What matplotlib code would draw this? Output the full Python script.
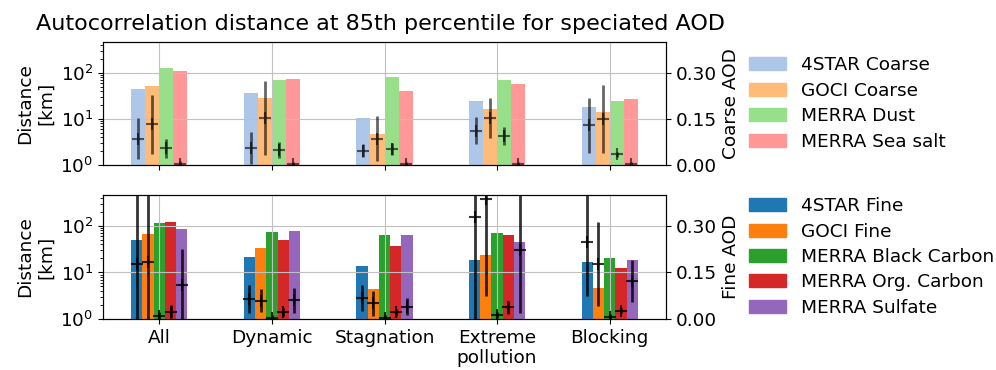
import numpy as np
from matplotlib import pyplot as plt
from matplotlib.patches import Patch

# categories of the meteorological regimes
categories = ['All', 'Dynamic', 'Stagnation', 'Extreme\npollution', 'Blocking']

# coarse mode: autocorrelation distance [km] (bars)
star_coarse_dist = [44, 36.5, 10.5, 24, 18.4]
goci_coarse_dist = [51, 28.4, 4.6, 16.3, 13.8]
merra_dust_dist = [129, 70, 82, 70, 25]
merra_seasalt_dist = [111, 75, 40, 57, 26.5]

# coarse mode: mean AOD and std (error bars)
star_coarse_aod = [0.085, 0.055, 0.047, 0.112, 0.129]
star_coarse_std = [0.067, 0.053, 0.021, 0.044, 0.089]
goci_coarse_aod = [0.132, 0.152, 0.086, 0.154, 0.150]
goci_coarse_std = [0.097, 0.120, 0.073, 0.065, 0.110]
merra_dust_aod = [0.054, 0.049, 0.053, 0.093, 0.035]
merra_dust_std = [0.030, 0.027, 0.019, 0.029, 0.008]
merra_seasalt_aod = [0.003, 0.002, 0.002, 0.002, 0.002]
merra_seasalt_std = [0.010, 0.008, 0.008, 0.008, 0.008]

# fine mode: autocorrelation distance [km]
star_fine_dist = [49.6, 21, 13.7, 18.2, 16.5]
goci_fine_dist = [67, 33.8, 4.4, 23.4, 4.6]
merra_bc_dist = [118, 73, 62.7, 69, 20]
merra_oc_dist = [120, 49.6, 38, 64.7, 12.4]
merra_su_dist = [86, 77, 64.7, 46, 18.5]

# fine mode: mean AOD and std
star_fine_aod = [0.178, 0.065, 0.067, 0.328, 0.247]
star_fine_std = [0.26, 0.046, 0.041, 0.35, 0.174]
goci_fine_aod = [0.183, 0.059, 0.051, 0.388, 0.178]
goci_fine_std = [0.26, 0.037, 0.040, 0.315, 0.136]
merra_bc_aod = [0.008, 0.003, 0.004, 0.013, 0.006]
merra_bc_std = [0.016, 0.010, 0.010, 0.011, 0.010]
merra_oc_aod = [0.024, 0.022, 0.021, 0.037, 0.026]
merra_oc_std = [0.022, 0.012, 0.010, 0.022, 0.008]
merra_su_aod = [0.111, 0.060, 0.040, 0.222, 0.122]
merra_su_std = [0.115, 0.040, 0.028, 0.203, 0.067]

coarse_labels = ['4STAR Coarse', 'GOCI Coarse', 'MERRA Dust', 'MERRA Sea salt']
fine_labels = ['4STAR Fine', 'GOCI Fine', 'MERRA Black Carbon', 'MERRA Org. Carbon', 'MERRA Sulfate']

plt.rcParams['font.size'] = 13.3

fig = plt.figure(figsize=(9.96, 3.7), dpi=100)
ax1 = fig.add_axes([0.1034, 0.554, 0.5653, 0.3325])
ax2 = fig.add_axes([0.1034, 0.138, 0.5653, 0.335])

x = np.arange(len(categories))


def panel(ax, dists, aods, stds, colors, labels, w, ealpha, rlabel):
    n = len(dists)
    ax.set_yscale('log')
    for i in range(n):
        ax.bar(x + (i - (n - 1) / 2.) * w, dists[i], w, color=colors[i])
    ax.set_ylim(1, 10 ** (0.4 / 0.15))
    ax.set_xlim(-0.5, 4.5)
    ax.set_xticks(x)
    ax.set_ylabel('Distance\n[km]')
    axt = ax.twinx()
    for i in range(n):
        axt.errorbar(x + (i - (n - 1) / 2.) * w, aods[i], yerr=stds[i], fmt='+',
                     color='k', alpha=ealpha, ms=9, mew=1.5, elinewidth=2)
    axt.set_ylim(0, 0.4)
    axt.set_yticks([0, 0.15, 0.30])
    axt.set_yticklabels(['0.00', '0.15', '0.30'])
    # grid on the twin so it is drawn over the bars (x grid too)
    axt.xaxis.set_visible(True)
    axt.tick_params(axis='x', length=0, labelbottom=False)
    axt.grid(True, color='#c0c0c0')
    axt.set_ylabel(rlabel)
    handles = [Patch(color=c, label=l) for c, l in zip(colors, labels)]
    axt.legend(handles=handles, loc='center left', bbox_to_anchor=(1.118, 0.5),
               frameon=False, labelspacing=0.4)
    return axt


panel(ax1,
      [star_coarse_dist, goci_coarse_dist, merra_dust_dist, merra_seasalt_dist],
      [star_coarse_aod, goci_coarse_aod, merra_dust_aod, merra_seasalt_aod],
      [star_coarse_std, goci_coarse_std, merra_dust_std, merra_seasalt_std],
      ['#aec7e8', '#ffbb78', '#98df8a', '#ff9896'], coarse_labels, 0.125, 0.6,
      'Coarse AOD')
ax1.set_xticklabels([])

panel(ax2,
      [star_fine_dist, goci_fine_dist, merra_bc_dist, merra_oc_dist, merra_su_dist],
      [star_fine_aod, goci_fine_aod, merra_bc_aod, merra_oc_aod, merra_su_aod],
      [star_fine_std, goci_fine_std, merra_bc_std, merra_oc_std, merra_su_std],
      ['#1f77b4', '#ff7f0e', '#2ca02c', '#d62728', '#9467bd'], fine_labels, 0.1, 0.8,
      'Fine AOD')
ax2.set_xticklabels(categories)

fig.text(380 / 996., 1 - 30 / 370., 'Autocorrelation distance at 85th percentile for speciated AOD',
         ha='center', va='baseline', fontsize=16)

fig.savefig('out.png', dpi=100)
